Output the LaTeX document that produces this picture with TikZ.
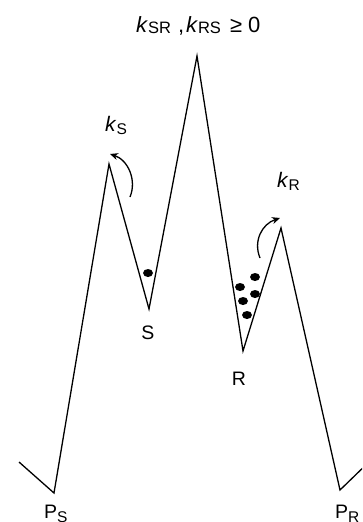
\documentclass[tikz,border=0pt]{standalone}
\usepackage{fontspec}
\setmainfont{Liberation Sans}
\usetikzlibrary{arrows.meta}
% smaller, lowered subscript set in upright text
\newcommand{\lowsub}[2][3pt]{\raisebox{-#1}{\fontsize{15.5}{15.5}\selectfont #2}}
\newcommand{\topsub}[1]{\raisebox{-1.5pt}{\fontsize{16.5}{16.5}\selectfont #1}}
\begin{document}
\begin{tikzpicture}[x=1pt,y=-1pt,
  profile/.style={line width=1.3pt, line join=miter},
  rate/.style={font=\fontsize{21}{21}\selectfont, inner sep=0pt, anchor=base west},
  state/.style={font=\fontsize{19.5}{19.5}\selectfont, inner sep=0pt, anchor=base},
  molecule/.style={fill=black},
  hop/.style={line width=1.3pt, -{Stealth[length=8pt,width=7pt]}}]
  \useasboundingbox (0,0) rectangle (362,522);
  \clip (0,0) rectangle (362,522);

  % energy profile vertices
  \coordinate (start) at (19,462);
  \coordinate (ps)    at (54,493);
  \coordinate (ts1)   at (109,164);
  \coordinate (s)     at (149,309);
  \coordinate (ts2)   at (197,56);
  \coordinate (r)     at (243,351);
  \coordinate (ts3)   at (281,228);
  \coordinate (pr)    at (340,490);
  \coordinate (stop)  at (372,459);

  \draw[profile] (start) -- (ps) -- (ts1) -- (s) -- (ts2) -- (r) -- (ts3) -- (pr) -- (stop);

  % labels
  \node[rate, font=\fontsize{22}{22}\selectfont] (krs) at (136,32)
    {\textit{k}\topsub{SR}\hspace{7pt},\hspace{2pt}\textit{k}\topsub{RS}\hspace{9pt}≥\hspace{6pt}0};
  \node[rate] (ks) at (105,131) {\textit{k}\lowsub{S}};
  \node[rate] (kr) at (277,187) {\textit{k}\lowsub{R}};
  \node[state] (slab) at (148,339) {S};
  \node[state] (rlab) at (239,385.5) {R};
  \node[state, anchor=base west] (pslab) at (44,518) {P\lowsub[4.5pt]{S}};
  \node[state, anchor=base west] (prlab) at (335,518) {P\lowsub[4.5pt]{R}};

  % populations
  \coordinate (m0) at (148,273);
  \coordinate (m1) at (255,277);
  \coordinate (m2) at (240,287);
  \coordinate (m3) at (255,294);
  \coordinate (m4) at (243,301);
  \coordinate (m5) at (247,315);
  \foreach \m in {m0,m1,m2,m3,m4,m5} \fill[molecule] (\m) ellipse [x radius=5, y radius=4];

  % escape arrows
  \coordinate (as0) at (130,197);
  \coordinate (as1) at (110,154);
  \draw[hop] (as0) .. controls (137,180) and (128,160) .. (as1);
  \coordinate (ar0) at (260,258);
  \coordinate (ar1) at (280,218);
  \draw[hop] (ar0) .. controls (253,241) and (262,224) .. (ar1);
\end{tikzpicture}
\end{document}
